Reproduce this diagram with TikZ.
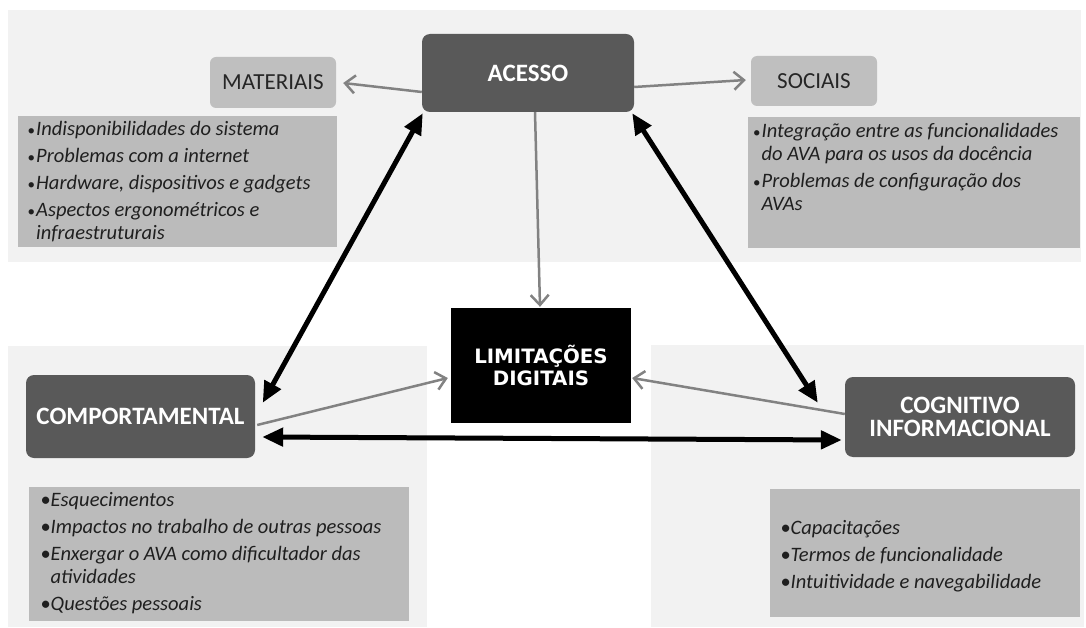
\documentclass[tikz,border=0pt]{standalone}
\usepackage{fontspec}
\setmainfont{Carlito}
\newfontfamily\djvfont{DejaVu Sans}
\usetikzlibrary{arrows.meta}
\definecolor{bandgray}{HTML}{F2F2F2}
\definecolor{boxdark}{HTML}{595959}
\definecolor{boxlight}{HTML}{BFBFBF}
\definecolor{boxlist}{HTML}{BBBBBB}
\definecolor{arrowgray}{HTML}{828282}
\newcommand\tbul{\makebox[8.5pt][l]{\upshape\fontsize{15}{15}\selectfont•}}
\newcommand\bbul{\makebox[10pt][l]{\upshape•}}
\begin{document}
\begin{tikzpicture}[x=1pt,y=-1pt,
 mainbox/.style={fill=boxdark, rounded corners=8pt, text=white, align=center, inner sep=0pt, font=\fontsize{25}{23}\selectfont\bfseries},
 subhead/.style={fill=boxlight, rounded corners=6pt, inner sep=0pt, text=black!85, font=\fontsize{23}{25}\selectfont},
 listtext/.style={anchor=north west, inner sep=0pt, align=left, text=black!88, font=\fontsize{20.5}{23}\selectfont\itshape},
 grayarrow/.style={draw=arrowgray, line width=2.5pt, -{Straight Barb[length=10pt,width=18pt]}},
 bigarrow/.style={draw=black, line width=5pt, {Triangle[length=21pt,width=18pt]}-{Triangle[length=21pt,width=18pt]}}
]
\fill[white] (0,0) rectangle (1086,628);
\fill[bandgray] (8,10) rectangle (1081,262);
\fill[bandgray] (8,346) rectangle (427,627);
\fill[bandgray] (651,345) rectangle (1084,627);
\fill[boxlist] (18,116) rectangle (337,247);
\fill[boxlist] (748,117) rectangle (1080,248);
\fill[boxlist] (29,487) rectangle (409,621);
\fill[boxlist] (770,489) rectangle (1080,617);

\node[mainbox, minimum width=212pt, minimum height=78pt] (acesso) at (528,73) {ACESSO};
\node[subhead, minimum width=126pt, minimum height=51pt] (mat) at (273,82.5) {MATERIAIS};
\node[subhead, minimum width=126pt, minimum height=50pt] (soc) at (814,81) {SOCIAIS};
\node[fill=black, text=white, minimum width=180pt, minimum height=115pt, inner sep=0pt, align=center, font=\djvfont\bfseries\fontsize{19.8}{21.5}\selectfont] (lim) at (541,365.5) {LIMITAÇÕES\\DIGITAIS};
\node[mainbox, minimum width=229pt, minimum height=83pt] (comp) at (140.5,416.5) {COMPORTAMENTAL};
\node[mainbox, minimum width=230pt, minimum height=80pt] (cog) at (960,417) {COGNITIVO\\INFORMACIONAL};

\node[listtext] (matlist) at (27.5,121) {\tbul Indisponibilidades do sistema\\[4pt]\tbul Problemas com a internet\\[4pt]\tbul Hardware, dispositivos e gadgets\\[4pt]\tbul Aspectos ergonométricos e\\\hspace*{8.5pt}infraestruturais};
\node[listtext] (soclist) at (753,123) {\tbul Integração entre as funcionalidades\\\hspace*{8.5pt}do AVA para os usos da docência\\[4pt]\tbul Problemas de configuração dos\\\hspace*{8.5pt}AVAs};
\node[listtext] (complist) at (40.5,492) {\bbul Esquecimentos\\[4pt]\bbul Impactos no trabalho de outras pessoas\\[4pt]\bbul Enxergar o AVA como dificultador das\\\hspace*{10pt}atividades\\[4pt]\bbul Questões pessoais};
\node[listtext] (coglist) at (780.5,520) {\bbul Capacitações\\[4pt]\bbul Termos de funcionalidade\\[4pt]\bbul Intuitividade e navegabilidade};

\draw[grayarrow] ([shift={(0,19)}]acesso.west) -- ([shift={(7,0.5)}]mat.east);
\draw[grayarrow] ([shift={(0,14)}]acesso.east) -- ([shift={(-5,-1)}]soc.west);
\draw[grayarrow] ([shift={(7,0)}]acesso.south) -- ([shift={(-1,-1)}]lim.north);
\draw[grayarrow] ([shift={(2,8.5)}]comp.east) -- ([shift={(-3,12.5)}]lim.west);
\draw[grayarrow] ([shift={(0,-3)}]cog.west) -- ([shift={(1,12.5)}]lim.east);

\draw[bigarrow] ([shift={(7.5,28)}]comp.north east) -- ([shift={(1,1)}]acesso.south west);
\draw[bigarrow] ([shift={(-2,1)}]acesso.south east) -- ([shift={(-27,26)}]cog.north west);
\draw[bigarrow] ([shift={(7,20.5)}]comp.east) -- ([shift={(-3,23)}]cog.west);
\end{tikzpicture}
\end{document}
